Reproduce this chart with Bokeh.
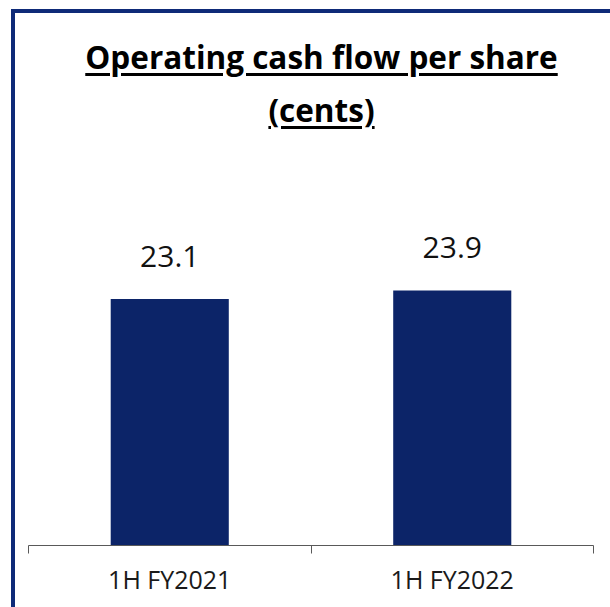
from bokeh.plotting import figure
from bokeh.models import Range1d, FixedTicker, Div
from bokeh.layouts import column
from bokeh.core.properties import value
from bokeh.embed import file_html
from bokeh.resources import INLINE

categories = ["1H FY2021", "1H FY2022"]
values = [23.1, 23.9]
value_labels = ["23.1", "23.9"]
title_line1 = "Operating cash flow per share"
title_line2 = "(cents)"

BAR = "#0c2468"
FRAME = "#0e2a78"
AXIS = "#595959"

xs = [i + 0.5 for i in range(len(categories))]
bounds = list(range(len(categories) + 1))

W = 595

title = Div(
    text=(
        f'<div style="box-sizing:border-box;display:block;width:{W}px;'
        'font-family:\'Open Sans\';font-weight:bold;font-size:31.5px;'
        'line-height:53px;text-align:center;color:#000;padding-top:17px;'
        'padding-left:18px;text-decoration:underline;text-underline-offset:4px;">'
        f'{title_line1}<br>{title_line2}</div>'
    ),
    width=W, height=130, margin=(0, 0, 0, 0),
)

p = figure(
    width=W, height=464,
    x_range=Range1d(0, len(categories)), y_range=Range1d(0, 36.74),
    output_backend="svg", toolbar_location=None,
    y_axis_location=None,
    min_border_left=13, min_border_right=17, min_border_top=10, min_border_bottom=62,
    margin=(0, 0, 0, 0),
)
p.outline_line_color = None
p.background_fill_color = "white"
p.border_fill_color = "white"
p.xgrid.visible = False
p.ygrid.visible = False

p.vbar(x=xs, top=values, width=0.418, color=BAR, line_color=None)
p.text(x=xs, y=values, text=value_labels, text_align="center", text_baseline="alphabetic",
       y_offset=-43, text_font=value("Open Sans"), text_font_size="30px", text_color="#111111")

ax = p.xaxis[0]
ax.ticker = FixedTicker(ticks=xs, minor_ticks=bounds)
ax.major_label_overrides = {x: c for x, c in zip(xs, categories)}
ax.axis_line_color = AXIS
ax.axis_line_width = 1
ax.major_tick_line_color = None
ax.major_tick_in = 0
ax.major_tick_out = 8
ax.minor_tick_line_color = AXIS
ax.minor_tick_in = 0
ax.minor_tick_out = 8
ax.major_label_standoff = 8
ax.major_label_text_font = "Open Sans"
ax.major_label_text_font_size = "25px"
ax.major_label_text_color = "#1a1a1a"

layout = column(
    title, p, spacing=0,
    styles={
        "border-left": f"4px solid {FRAME}",
        "border-top": f"4px solid {FRAME}",
        "margin-left": "11px",
        "margin-top": "9px",
    },
)

open("out.html", "w").write(file_html(layout, INLINE))
